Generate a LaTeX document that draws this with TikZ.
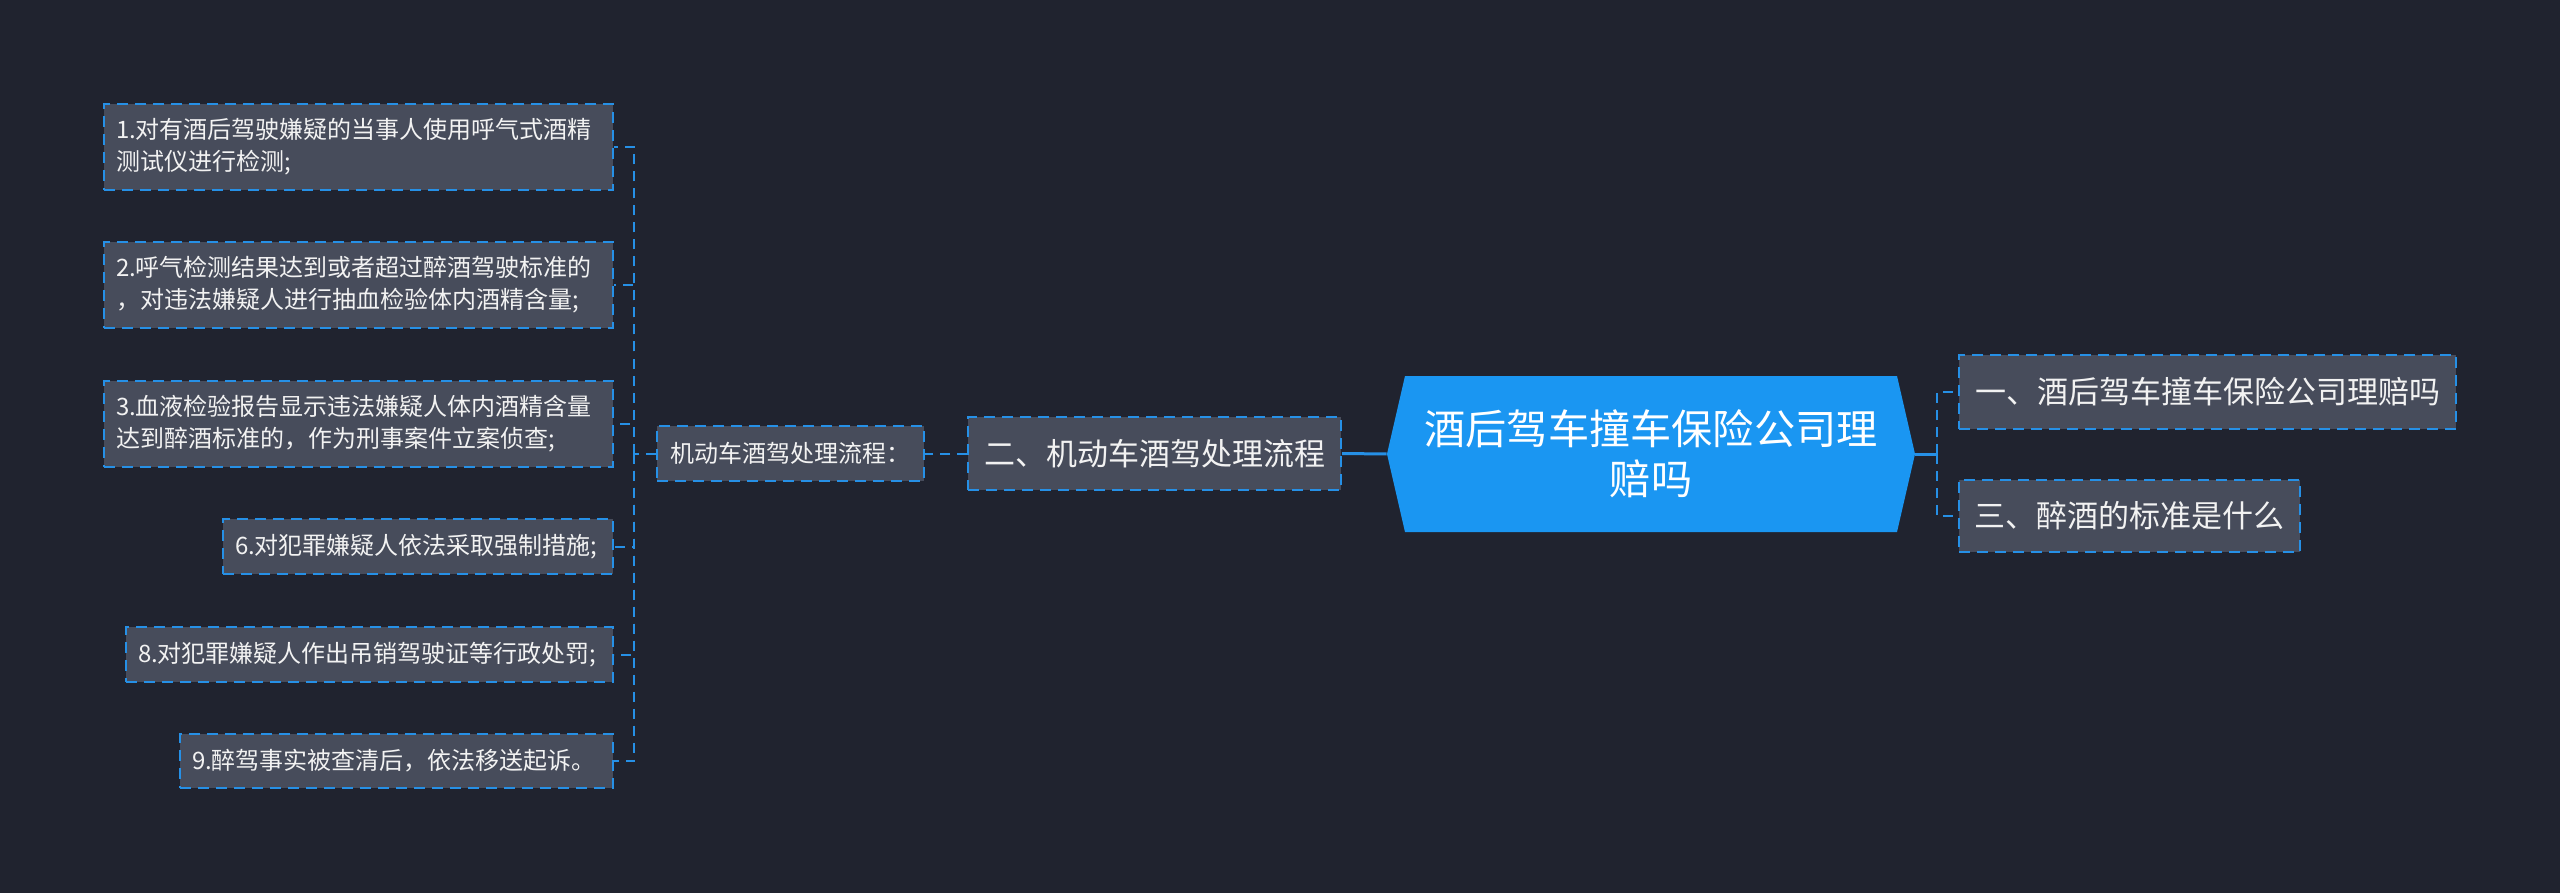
\documentclass[tikz,border=0pt]{standalone}
\usepackage{fontspec}
\setmainfont{Noto Sans CJK SC}
\definecolor{bg}{HTML}{20232F}
\definecolor{boxfill}{HTML}{474C5B}
\definecolor{lineblue}{HTML}{2690E6}
\definecolor{rootblue}{HTML}{1A96F2}
\definecolor{txt}{HTML}{F2F2F2}
\begin{document}
\begin{tikzpicture}[x=0.5pt,y=-0.5pt,
  box/.style={draw=lineblue, fill=boxfill, line width=1pt, dash pattern=on 5.5pt off 3.5pt,
    text=txt, inner xsep=6pt, inner ysep=0pt},
  leaf/.style={box, inner xsep=6pt, align=left, font=\fontsize{12pt}{16pt}\selectfont},
  midbox/.style={box, align=center, font=\fontsize{12pt}{16pt}\selectfont},
  secbox/.style={box, align=center, font=\fontsize{15.5pt}{20pt}\selectfont},
  dashc/.style={draw=lineblue, line width=1pt, dash pattern=on 5pt off 3.5pt},
  solidc/.style={draw=lineblue, line width=1.5pt},
  rootnode/.style={text=white, align=center, font=\fontsize{20.6pt}{25pt}\selectfont,
    minimum width=264pt, minimum height=78pt, inner sep=0pt}
]
\fill[bg] (0,0) rectangle (2560,893);
\useasboundingbox (0,0) rectangle (2560,893);

% root
\fill[rootblue] (1387,454) -- (1405,376) -- (1897,376) -- (1915,454) -- (1897,532) -- (1405,532) -- cycle;
\node[rootnode] (root) at (1651,454) {酒后驾车撞车保险公司理\\赔吗};

% right branch
\node[secbox, minimum width=248.5pt, minimum height=37pt] (rA) at (2207.5,392) {一、酒后驾车撞车保险公司理赔吗};
\node[secbox, minimum width=170.5pt, minimum height=36pt] (rB) at (2129.5,516) {三、醉酒的标准是什么};
\coordinate (jr) at (1937,454);
\draw[solidc] (root.east) -- (jr);
\draw[dashc] (jr) |- (rA.west);
\draw[dashc] (jr) |- (rB.west);

% left branch
\node[secbox, minimum width=186.5pt, minimum height=36.5pt] (sec) at (1154.5,453.5) {二、机动车酒驾处理流程};
\node[midbox, minimum width=133.5pt, minimum height=27.5pt] (mid) at (790.5,453.5) {机动车酒驾处理流程：};
\draw[solidc] (root.west) -- (sec.east);
\draw[dashc] (sec.west) -- (mid.east);

\node[leaf, minimum width=254.5pt, text width=242.5pt, minimum height=43pt] (l1) at (358.5,147) {1.对有酒后驾驶嫌疑的当事人使用呼气式酒精\\测试仪进行检测;};
\node[leaf, minimum width=254.5pt, text width=242.5pt, minimum height=43pt] (l2) at (358.5,285) {2.呼气检测结果达到或者超过醉酒驾驶标准的\\，对违法嫌疑人进行抽血检验体内酒精含量;};
\node[leaf, minimum width=254.5pt, text width=242.5pt, minimum height=43pt] (l3) at (358.5,424) {3.血液检验报告显示违法嫌疑人体内酒精含量\\达到醉酒标准的，作为刑事案件立案侦查;};
\node[leaf, minimum width=195pt, text width=183pt, minimum height=27.5pt] (l6) at (418,546.5) {6.对犯罪嫌疑人依法采取强制措施;};
\node[leaf, minimum width=243.5pt, text width=231.5pt, minimum height=27.5pt] (l8) at (369.5,654.5) {8.对犯罪嫌疑人作出吊销驾驶证等行政处罚;};
\node[leaf, minimum width=216.5pt, text width=204.5pt, minimum height=27pt] (l9) at (396.5,761) {9.醉驾事实被查清后，依法移送起诉。};

\coordinate (jl) at (634,453.5);
\draw[dashc] (mid.west) -- (jl);
\foreach \n in {l1,l2,l3,l6,l8,l9} {
  \draw[dashc] (jl) |- (\n.east);
}
\end{tikzpicture}
\end{document}
